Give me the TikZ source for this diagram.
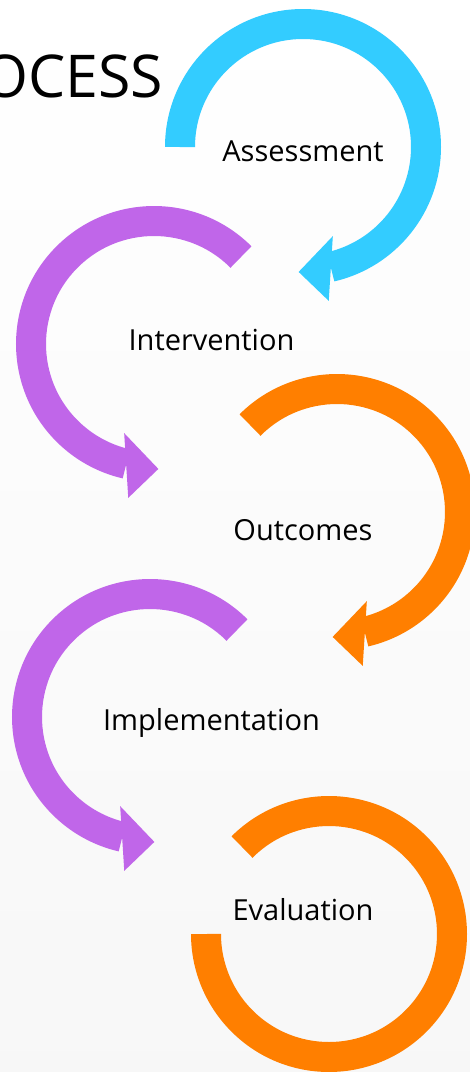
\documentclass[tikz,border=0pt]{standalone}
\usepackage{fontspec}
\setmainfont{Open Sans}
\definecolor{cblue}{HTML}{33CCFF}
\definecolor{cpurple}{HTML}{C066E9}
\definecolor{corange}{HTML}{FF7F00}
\newcommand\cwArrow[4]{%
  \begin{scope}[shift={(#1,-#2)}]
    \draw[#4, ring] (#3:123) arc[start angle=#3, end angle=-77, radius=123];
    \fill[#4] (-71.5:94) -- (-92:125) -- (-80.5:156) -- cycle;
  \end{scope}}
\newcommand\ccwArrow[4]{%
  \begin{scope}[shift={(#1,-#2)}]
    \draw[#4, ring] (#3:123) arc[start angle=#3, end angle=257, radius=123];
    \fill[#4] (251.5:94) -- (272:125) -- (260.5:156) -- cycle;
  \end{scope}}
\begin{document}
\begin{tikzpicture}[x=1pt,y=1pt,
  ring/.style={line width=30pt, line cap=butt},
  lbl/.style={anchor=base, inner sep=0pt, font=\fontsize{29}{35}\selectfont, text=black}]
\useasboundingbox (0,0) rectangle (470,-1072);
\clip (0,0) rectangle (470,-1072);
\shade[top color=white, middle color=white, bottom color=black!3] (0,0) rectangle (470,-1072);
\node[anchor=base east, inner sep=0pt, font=\fontsize{59}{70}\selectfont] (title) at (163,-97) {OCESS};
% arcs
\cwArrow{303}{147}{180}{cblue}
\ccwArrow{154}{344}{45}{cpurple}
\cwArrow{337}{512}{135}{corange}
\ccwArrow{150}{717}{45}{cpurple}
\begin{scope}[shift={(329,-934)}]
  \draw[corange, ring] (135:123) arc[start angle=135, end angle=-180, radius=123];
\end{scope}
% labels
\node[lbl] (assess) at (303,-161) {Assessment};
\node[lbl] (interv) at (211.5,-350) {Intervention};
\node[lbl] (outc) at (303,-540) {Outcomes};
\node[lbl] (impl) at (211.5,-730) {Implementation};
\node[lbl] (eval) at (303,-920) {Evaluation};
\end{tikzpicture}
\end{document}
